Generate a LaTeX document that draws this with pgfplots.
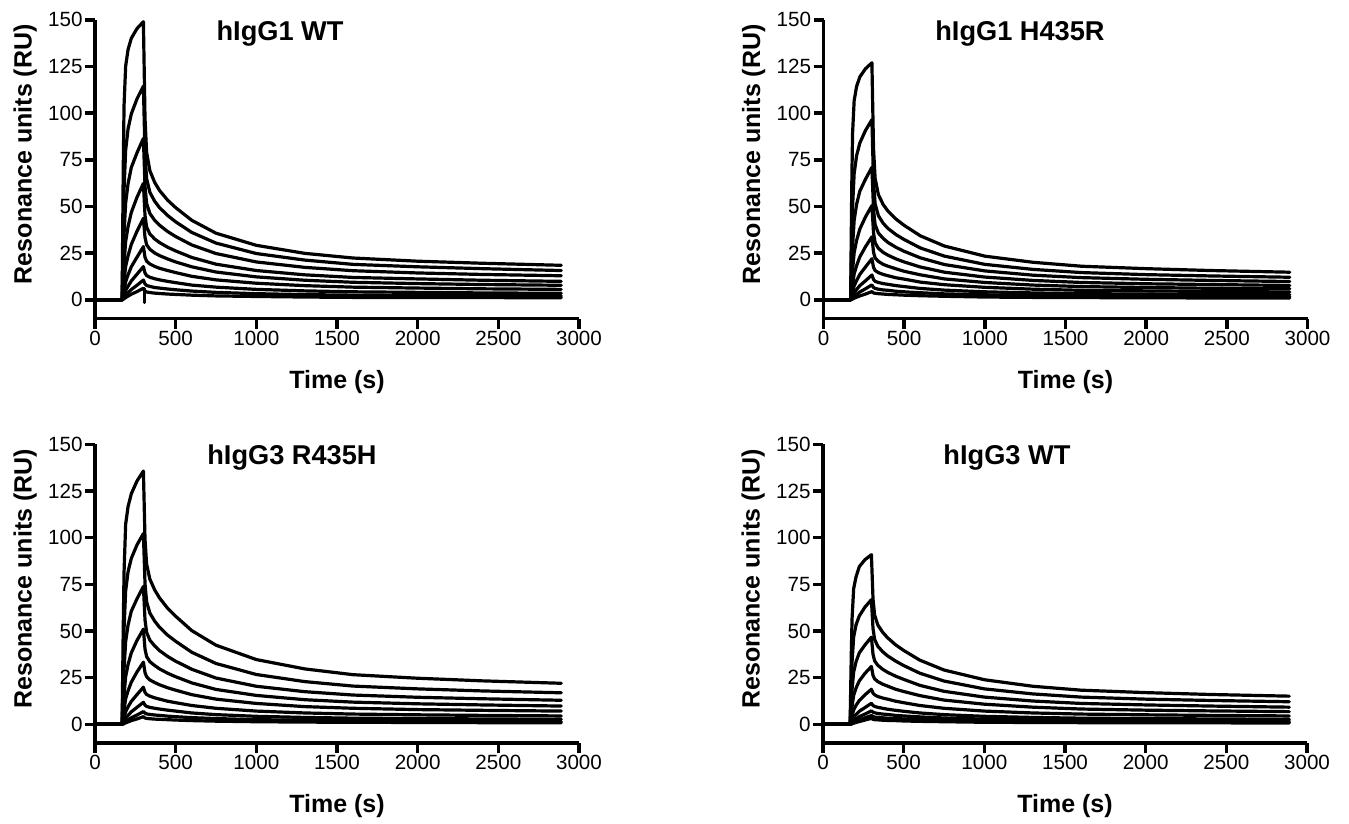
\documentclass[border=0pt]{standalone}
\usepackage{fontspec}
\setmainfont{Liberation Sans}
\usepackage{pgfplots}
\pgfplotsset{compat=1.18}
\usepackage{pgfplotstable}

% hIgG1 WT
\pgfplotstableread{
t c1 c2 c3 c4 c5 c6 c7 c8 c9
0 0 0 0 0 0 0 0 0 0
168 0 0 0 0 0 0 0 0 0
175 70.0 36.0 19.0 10.6 5.2 2.6 1.2 0.5 0.2
180 104.0 59.0 35.5 19.3 10.1 5.1 2.5 1.2 0.6
190 125.2 80.2 51.9 31.2 17.9 9.7 5.0 2.4 1.2
205 134.1 91.6 62.3 39.3 23.6 13.4 7.3 3.8 2.0
225 140.1 99.6 70.9 46.8 29.7 17.7 10.1 5.5 3.0
260 145.3 107.6 78.7 54.9 36.7 22.8 13.7 7.8 4.4
300 149 114.5 86.5 62.4 43.7 28.5 17.8 10.6 6.2
310 97.2 77.8 60.8 45.2 33.4 22.8 14.4 8.5 4.7
320 79.0 64.9 51.6 39.0 29.5 20.7 13.0 7.7 4.2
340 69.2 57.6 46.3 35.3 27.1 19.2 12.1 7.2 3.9
370 62.9 52.8 42.6 32.6 25.1 17.9 11.3 6.6 3.6
400 58.6 49.4 40.0 30.7 23.7 16.9 10.7 6.3 3.4
450 53.4 45.2 36.6 28.2 21.9 15.7 9.9 5.8 3.1
500 49.4 41.8 33.9 26.2 20.3 14.6 9.2 5.4 2.9
600 42.6 36.1 29.4 22.7 17.7 12.6 7.9 4.7 2.5
750 35.7 30.4 24.8 19.1 14.9 10.7 6.8 4.0 2.1
1000 29.2 24.8 20.3 15.7 12.3 8.9 5.6 3.3 1.8
1300 24.9 21.3 17.4 13.4 10.5 7.6 4.8 2.8 1.5
1600 22.4 19.0 15.6 12.0 9.4 6.8 4.3 2.5 1.3
2000 20.7 17.7 14.4 11.2 8.7 6.3 4.0 2.3 1.2
2400 19.6 16.7 13.6 10.5 8.2 5.9 3.7 2.2 1.2
2890 18.5 15.7 12.9 9.9 7.8 5.6 3.5 2.1 1.1
}\tabA

% hIgG1 H435R
\pgfplotstableread{
t c1 c2 c3 c4 c5 c6 c7 c8 c9
0 0 0 0 0 0 0 0 0 0
168 0 0 0 0 0 0 0 0 0
175 60.0 30.5 15.6 8.6 4.1 2.0 0.9 0.4 0.2
180 89.0 49.5 28.4 15.7 7.8 4.0 1.9 0.9 0.4
190 106.7 67.6 42.6 25.3 13.9 7.5 3.7 1.8 0.9
205 114.3 77.2 51.1 31.8 18.3 10.3 5.5 2.9 1.4
225 119.4 84.0 58.2 37.9 23.0 13.6 7.6 4.2 2.1
260 123.8 90.7 64.6 44.4 28.4 17.6 10.2 5.9 3.1
300 127 96.5 71 50.5 33.8 22 13.3 8 4.4
310 81.1 63.2 48.3 35.9 25.5 17.4 10.9 6.6 3.7
320 65.0 51.4 40.3 30.6 22.4 15.7 9.9 6.1 3.5
340 56.4 45.1 35.8 27.6 20.6 14.6 9.3 5.7 3.3
370 51.0 41.0 32.9 25.4 19.0 13.6 8.7 5.3 3.1
400 47.5 38.2 30.7 23.9 18.0 12.9 8.3 5.1 2.9
450 43.2 34.9 28.1 21.9 16.6 11.8 7.6 4.6 2.7
500 39.9 32.3 26.0 20.3 15.3 11.1 7.1 4.3 2.5
600 34.3 27.8 22.5 17.6 13.4 9.5 6.1 3.8 2.2
750 28.8 23.4 18.9 14.8 11.2 8.1 5.2 3.2 1.9
1000 23.4 19.0 15.5 12.2 9.3 6.7 4.3 2.7 1.5
1300 20.1 16.3 13.2 10.4 7.9 5.7 3.7 2.3 1.3
1600 18.0 14.6 11.9 9.3 7.1 5.1 3.3 2.0 1.2
2000 16.7 13.5 11.0 8.6 6.6 4.8 3.1 1.9 1.1
2400 15.7 12.8 10.4 8.2 6.2 4.5 2.9 1.8 1.0
2890 14.8 12.1 9.8 7.7 5.9 4.2 2.7 1.7 1.0
}\tabB

% hIgG3 R435H
\pgfplotstableread{
t c1 c2 c3 c4 c5 c6 c7 c8 c9
0 0 0 0 0 0 0 0 0 0
168 0 0 0 0 0 0 0 0 0
175 51.6 30.7 16.3 8.7 4.0 1.8 0.8 0.3 0.2
180 81.4 51.1 29.6 15.8 7.7 3.6 1.7 0.7 0.4
190 107.2 71.5 44.3 25.5 13.7 6.8 3.3 1.6 0.8
205 116.7 81.8 53.2 32.1 18.0 9.4 4.8 2.4 1.3
225 123.5 88.9 60.6 38.3 22.6 12.3 6.7 3.5 2.0
260 130.3 96.1 67.2 44.9 28.0 15.9 9.1 5.0 2.9
300 135.7 102.2 73.9 51 33.3 19.9 11.8 6.8 4.1
310 99.1 75.3 55.9 40.3 27.7 17.1 10.3 6.0 3.4
320 85.8 65.6 49.3 36.3 25.5 16.0 9.6 5.6 3.2
340 77.8 59.6 45.1 33.6 23.8 15.1 9.1 5.3 3.0
370 72.0 55.3 42.0 31.5 22.4 14.2 8.6 5.0 2.8
400 67.7 52.0 39.5 29.7 21.2 13.5 8.2 4.8 2.7
450 62.2 47.8 36.4 27.4 19.6 12.4 7.6 4.4 2.5
500 57.9 44.5 33.8 25.5 18.3 11.6 7.1 4.1 2.3
600 50.2 38.6 29.5 22.2 15.9 10.1 6.1 3.6 2.0
750 42.4 32.6 24.8 18.7 13.5 8.6 5.2 3.1 1.7
1000 34.7 26.7 20.4 15.5 11.2 7.1 4.3 2.5 1.4
1300 29.7 22.9 17.5 13.2 9.5 6.1 3.7 2.2 1.2
1600 26.6 20.5 15.7 11.9 8.6 5.5 3.3 1.9 1.1
2000 24.7 19.0 14.5 11.0 7.9 5.1 3.1 1.8 1.0
2400 23.3 17.9 13.7 10.4 7.5 4.8 2.9 1.7 0.9
2890 22.0 16.9 12.9 9.8 7.1 4.5 2.7 1.6 0.9
}\tabC

% hIgG3 WT
\pgfplotstableread{
t c1 c2 c3 c4 c5 c6 c7 c8 c9
0 0 0 0 0 0 0 0 0 0
168 0 0 0 0 0 0 0 0 0
175 36.4 20.0 10.3 5.3 2.3 1.0 0.5 0.2 0.1
180 56.4 33.4 18.7 9.6 4.3 2.0 1.0 0.5 0.3
190 72.7 46.8 28.0 15.5 7.7 3.8 2.0 1.1 0.6
205 79.1 53.4 33.6 19.5 10.2 5.3 3.0 1.7 1.0
225 84.5 58.1 38.3 23.3 12.8 7.0 4.1 2.4 1.5
260 88.2 62.8 42.5 27.3 15.8 9.0 5.5 3.5 2.3
300 90.9 66.8 46.7 31 18.8 11.3 7.2 4.7 3.2
310 67.1 51.3 37.5 26.2 16.7 10.1 6.5 4.2 2.7
320 58.5 45.5 34.0 24.3 15.8 9.6 6.2 3.9 2.5
340 53.2 41.8 31.6 22.9 14.9 9.1 5.8 3.7 2.4
370 49.3 38.9 29.5 21.5 14.1 8.6 5.5 3.5 2.2
400 46.4 36.7 27.9 20.5 13.5 8.1 5.3 3.3 2.1
450 42.6 33.9 25.8 18.8 12.4 7.5 4.8 3.1 2.0
500 39.6 31.5 24.1 17.6 11.6 7.0 4.5 2.9 1.8
600 34.4 27.4 20.9 15.4 10.1 6.1 4.0 2.5 1.6
750 29.1 23.2 17.7 13.0 8.6 5.2 3.4 2.1 1.4
1000 23.9 19.0 14.6 10.8 7.1 4.3 2.8 1.8 1.1
1300 20.4 16.3 12.5 9.2 6.1 3.7 2.4 1.5 1.0
1600 18.3 14.6 11.2 8.2 5.5 3.3 2.1 1.3 0.9
2000 17.0 13.5 10.4 7.6 5.1 3.1 2.0 1.2 0.8
2400 16.0 12.8 9.8 7.2 4.8 2.9 1.9 1.2 0.8
2890 15.1 12.1 9.2 6.8 4.5 2.7 1.8 1.1 0.7
}\tabD

\pgfplotsset{
  spr/.style={
    anchor=south west,
    scale only axis, width=242pt, height=149.33pt,
    xmin=0, xmax=3000, ymin=-10, ymax=150,
    axis lines=left,
    axis line style={-, line width=1.8pt},
    every outer x axis line/.append style={-, line width=1.8pt},
    every outer y axis line/.append style={-, line width=1.8pt},
    xtick={0,500,...,3000}, ytick={0,25,...,150},
    tick align=outside, major tick length=5pt,
    major tick style={line width=1.8pt, black},
    scaled x ticks=false,
    /pgf/number format/1000 sep={},
    /pgf/number format/assume math mode=true,
    tick label style={font=\fontsize{10.3}{12}\selectfont, inner sep=1pt},
    label style={font=\bfseries\fontsize{12.5}{14}\selectfont},
    xlabel={Time (s)}, ylabel={Resonance units (RU)},
    xlabel style={at={(axis description cs:0.5,-0.234)}, anchor=base},
    ylabel style={at={(axis description cs:-0.131,0.55)}, anchor=base},
  },
}
\tikzset{
  ttl/.style={font=\bfseries\fontsize{13.6}{15}\selectfont, anchor=base},
  crv/.style={black, line width=1.6pt, line join=round, line cap=round, mark=none},
}

\begin{document}
\begin{tikzpicture}
\path[use as bounding box] (0,0) rectangle (674.5pt,-412pt);

\begin{axis}[spr, at={(47.5pt,-159.25pt)}]
\pgfplotsinvokeforeach{1,...,9}{\addplot[crv] table[x=t, y=c#1]{\tabA};}
\addplot[crv] coordinates {(305,-1.5) (305,6)};
\node[ttl] at (axis cs:1147,139) {hIgG1 WT};
\end{axis}

\begin{axis}[spr, at={(411.75pt,-159.25pt)}]
\pgfplotsinvokeforeach{1,...,9}{\addplot[crv] table[x=t, y=c#1]{\tabB};}
\node[ttl] at (axis cs:1218,139) {hIgG1 H435R};
\end{axis}

\begin{axis}[spr, at={(47.5pt,-371.5pt)}]
\pgfplotsinvokeforeach{1,...,9}{\addplot[crv] table[x=t, y=c#1]{\tabC};}
\node[ttl] at (axis cs:1221,139) {hIgG3 R435H};
\end{axis}

\begin{axis}[spr, at={(411.5pt,-371.5pt)}]
\pgfplotsinvokeforeach{1,...,9}{\addplot[crv] table[x=t, y=c#1]{\tabD};}
\node[ttl] at (axis cs:1140,139) {hIgG3 WT};
\end{axis}
\end{tikzpicture}
\end{document}
